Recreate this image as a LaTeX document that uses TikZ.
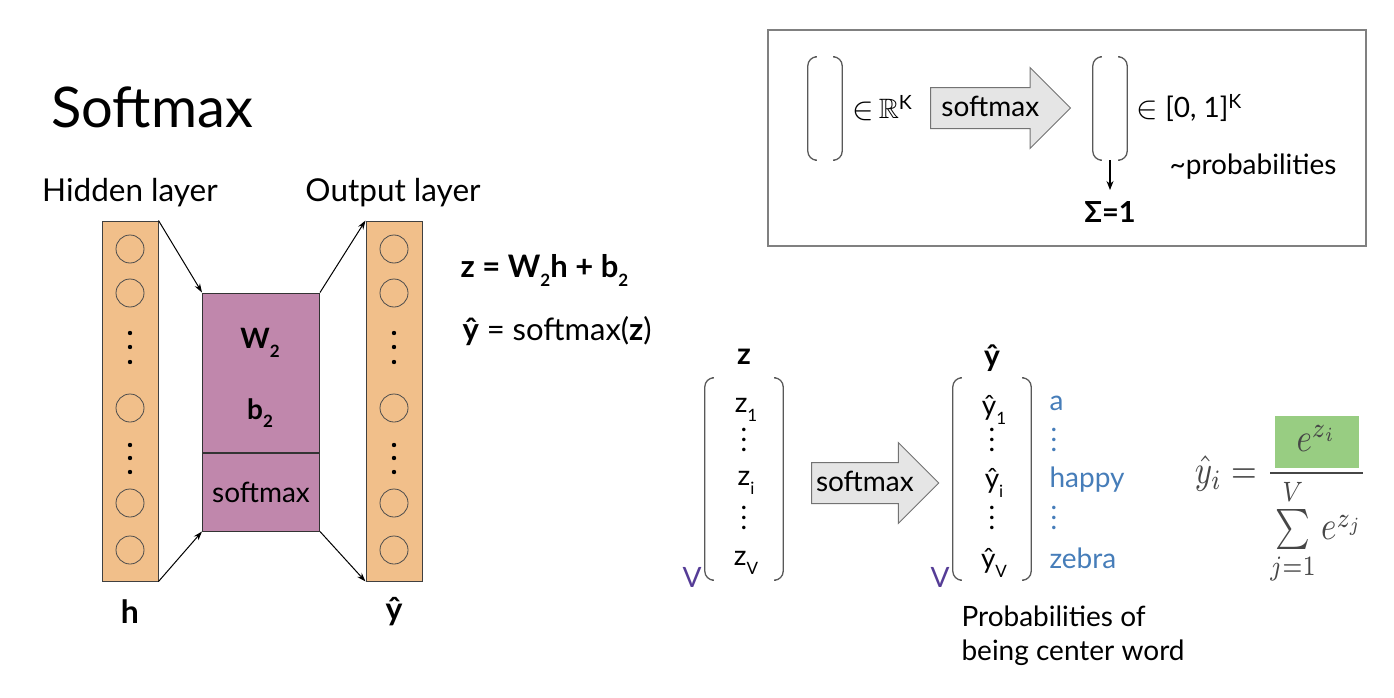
\documentclass[tikz,border=0pt]{standalone}
\usepackage[no-math]{fontspec}
\setmainfont{Lato}
\usepackage{amsmath,amssymb}
\usetikzlibrary{arrows.meta,shapes.arrows}

\definecolor{layerorange}{RGB}{241,191,138}
\definecolor{weightmauve}{RGB}{192,135,172}
\definecolor{wordblue}{RGB}{70,125,185}
\definecolor{sizepurple}{RGB}{85,60,150}
\definecolor{numgreen}{RGB}{152,205,130}
\definecolor{formulagray}{RGB}{70,70,70}

\newcommand{\fsz}[2]{\fontsize{#1}{#2}\selectfont}
\newcommand{\lowidx}[1]{\raisebox{-0.3em}{\fsz{17}{20}#1}}
\newcommand{\dotcol}{\vbox{\baselineskip=10pt\lineskiplimit=0pt\hbox{.}\hbox{.}\hbox{.}}}
\newcommand{\bigin}{\raisebox{-0.05em}{\scalebox{1.3}{$\in$}}}
\newcommand{\vecbrackets}[1]{%
  \draw[bracket] ([xshift=7pt]#1.north west) -- (#1.north west) -- (#1.south west) -- ([xshift=7pt]#1.south west);
  \draw[bracket] ([xshift=-7pt]#1.north east) -- (#1.north east) -- (#1.south east) -- ([xshift=-7pt]#1.south east);}

\begin{document}
\begin{tikzpicture}[x=1pt,y=-1pt,
    every node/.style={font=\fsz{28}{34}},
    layer/.style={draw=black!75,line width=1pt,fill=layerorange,minimum width=56pt,minimum height=360pt,inner sep=0pt},
    unit/.style={circle,draw=black!70,line width=0.8pt,minimum size=28pt,inner sep=0pt},
    weights/.style={draw=black!80,line width=1pt,fill=weightmauve,minimum width=117pt,inner sep=0pt},
    link/.style={-{Stealth[length=9pt,width=6pt]},line width=1pt},
    blockarrow/.style={single arrow,draw=black!55,line width=1pt,fill=black!10,single arrow head extend=20pt,
      minimum height=#1,text height=19pt,text depth=2pt,inner ysep=9.5pt,inner xsep=4pt,anchor=west},
    slot/.style={minimum width=#1,minimum height=103pt,inner sep=0pt},
    bracket/.style={draw=black!65,line width=1.3pt,rounded corners=9pt},
    word/.style={text=wordblue,anchor=west},
    dim/.style={text=sizepurple,anchor=base}]
  \useasboundingbox (0,0) rectangle (1394,698);

  % title
  \node[font=\fsz{56}{60},anchor=base west] (title) at (48,128) {Softmax};

  % network
  \node[font=\fsz{31.5}{38}] (hidlabel) at (130,193) {Hidden layer};
  \node[font=\fsz{31.5}{38}] (outlabel) at (393,193) {Output layer};
  \node[layer] (hid) at (130,401) {};
  \node[layer] (out) at (394,401) {};
  \foreach \y [count=\i] in {249,293,408,503,550} {
    \node[unit] (hu\i) at (130,\y) {};
    \node[unit] (ou\i) at (394,\y) {};
  }
  \foreach \y in {333,347,362,445,458,472} {
    \fill (130,\y) circle (2.2pt);
    \fill (394,\y) circle (2.2pt);
  }
  \node[weights,minimum height=159pt] (wb) at (261,372.5) {};
  \node[weights,minimum height=78pt,anchor=north] (sm) at (wb.south) {softmax};
  \node[font=\fsz{28}{34}\bfseries] (wlabel) at (260,343) {W\lowidx{2}};
  \node[font=\fsz{28}{34}\bfseries] (blabel) at (260,413) {b\lowidx{2}};
  \draw[link] (hid.north east) -- (wb.north west);
  \draw[link] (hid.south east) -- (sm.south west);
  \draw[link] (wb.north east) -- (out.north west);
  \draw[link] (sm.south east) -- (out.south west);
  \node[font=\fsz{32}{38}\bfseries] (hvec) at (130,612) {h};
  \node[font=\fsz{32}{38}\bfseries] (yvec) at (394,612) {ŷ};

  % equations
  \node[font=\fsz{31}{37},anchor=base west] (zeq) at (457,277) {\bfseries z = W\lowidx{2}h + b\lowidx{2}};
  \node[font=\fsz{31}{37},anchor=base west] (yeq) at (459,340) {\textbf{ŷ} = softmax(\textbf{z})};

  % summary box
  \node[draw=black!50,line width=1.5pt,minimum width=598pt,minimum height=216pt,inner sep=0pt] (summary) at (1067,138) {};
  \node[slot=34pt] (vin) at (825,108.5) {};
  \vecbrackets{vin}
  \node[anchor=west] (inreal) at (849,108) {\bigin\,$\mathbb{R}$\textsuperscript{K}};
  \node[blockarrow=140pt] (softtop) at (930,108) {softmax};
  \node[slot=34pt] (vout) at (1110,108.5) {};
  \vecbrackets{vout}
  \node[anchor=west] (inunit) at (1133,108) {\bigin\ [0, 1]\textsuperscript{K}};
  \node (probs) at (1253,167) {\textasciitilde probabilities};
  \coordinate (sumtip) at (1110,190);
  \draw[-{Stealth[length=9pt,width=7pt]},line width=1.2pt] (vout.south) -- (sumtip);
  \node[font=\fsz{29}{34}\bfseries] (sumone) at (1110,212) {Σ=1};

  % logits vector
  \node[font=\fsz{30}{36}\bfseries] (zname) at (744,357) {z};
  \node[slot=78pt,minimum height=202pt] (zcol) at (744,479) {};
  \vecbrackets{zcol}
  \node (z1) at (746,410) {z\lowidx{1}};
  \node (zd1) at (744,440) {\dotcol};
  \node (zi) at (746,483) {z\lowidx{i}};
  \node (zd2) at (744,518) {\dotcol};
  \node (zv) at (746,563) {z\lowidx{V}};
  \node[dim] (zdim) at (692,587) {V};
  \node[blockarrow=127pt] (softbottom) at (811,483) {softmax};

  % probability vector
  \node[font=\fsz{30}{36}\bfseries] (yname) at (992,358) {ŷ};
  \node[slot=78pt,minimum height=202pt] (ycol) at (992,479) {};
  \vecbrackets{ycol}
  \node (y1) at (994,410) {ŷ\lowidx{1}};
  \node (yd1) at (992,440) {\dotcol};
  \node (yi) at (994,483) {ŷ\lowidx{i}};
  \node (yd2) at (992,518) {\dotcol};
  \node (yv) at (994,563) {ŷ\lowidx{V}};
  \node[dim] (ydim) at (940,587) {V};
  \node[word] (wa) at (1046,403) {a};
  \node[word] (wd1) at (1047,440) {\dotcol};
  \node[word] (whappy) at (1046,480) {happy};
  \node[word] (wd2) at (1047,518) {\dotcol};
  \node[word] (wzebra) at (1046,558) {zebra};
  \node[anchor=north west,align=left] (caption) at (958,602) {Probabilities of\\being center word};

  % formula
  \node[text=formulagray,font=\fsz{10}{12}] (softeq) at (1281,500) {\setlength{\fboxsep}{0pt}\scalebox{3.3}[4.0]{$\hat{y}_i = \dfrac{\colorbox{numgreen}{\makebox[25.5pt]{\rule[-4pt]{0pt}{13pt}$e^{z_i}$}}}{\sum\limits_{j=1}^{V} e^{z_j}}$}};
\end{tikzpicture}
\end{document}
